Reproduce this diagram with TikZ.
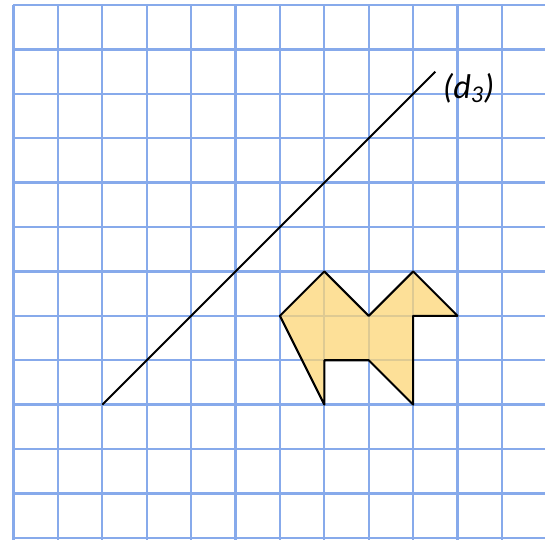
\documentclass[tikz,border=0pt]{standalone}
\usepackage{fontspec}
\setmainfont{Carlito}
\begin{document}
\begin{tikzpicture}[x=1cm,y=1cm,
  gridline/.style={draw={rgb,255:red,135;green,170;blue,235},line width=1.5pt},
  blackline/.style={draw=black,line width=1.3pt,line join=round},
  camelfill/.style={fill={rgb,255:red,252;green,214;blue,118},fill opacity=0.75}]
\useasboundingbox (-0.304,0.113) rectangle (11.97,-12.03);
\clip (-0.304,0.113) rectangle (11.97,-12.03);
% grid
\foreach \i in {0,...,11} \draw[gridline] (\i,0) -- (\i,-12.3);
\foreach \j in {0,...,12} \draw[gridline] (0,-\j) -- (12.3,-\j);
% camel
\path[camelfill] (6,-7) -- (7,-6) -- (8,-7) -- (9,-6) -- (10,-7) -- (9,-7) -- (9,-9) -- (8,-8) -- (7,-8) -- (7,-9) -- cycle;
\draw[blackline] (6,-7) -- (7,-6) -- (8,-7) -- (9,-6) -- (10,-7) -- (9,-7) -- (9,-9) -- (8,-8) -- (7,-8) -- (7,-9) -- cycle;
% line d3
\coordinate (a) at (2,-9);
\coordinate (b) at (9.5,-1.5);
\draw[blackline] (a) -- (b);
\node[font=\fontsize{22}{26}\selectfont\itshape] (lab) at (10.25,-1.87) {(d\textsubscript{3})};
\end{tikzpicture}
\end{document}
